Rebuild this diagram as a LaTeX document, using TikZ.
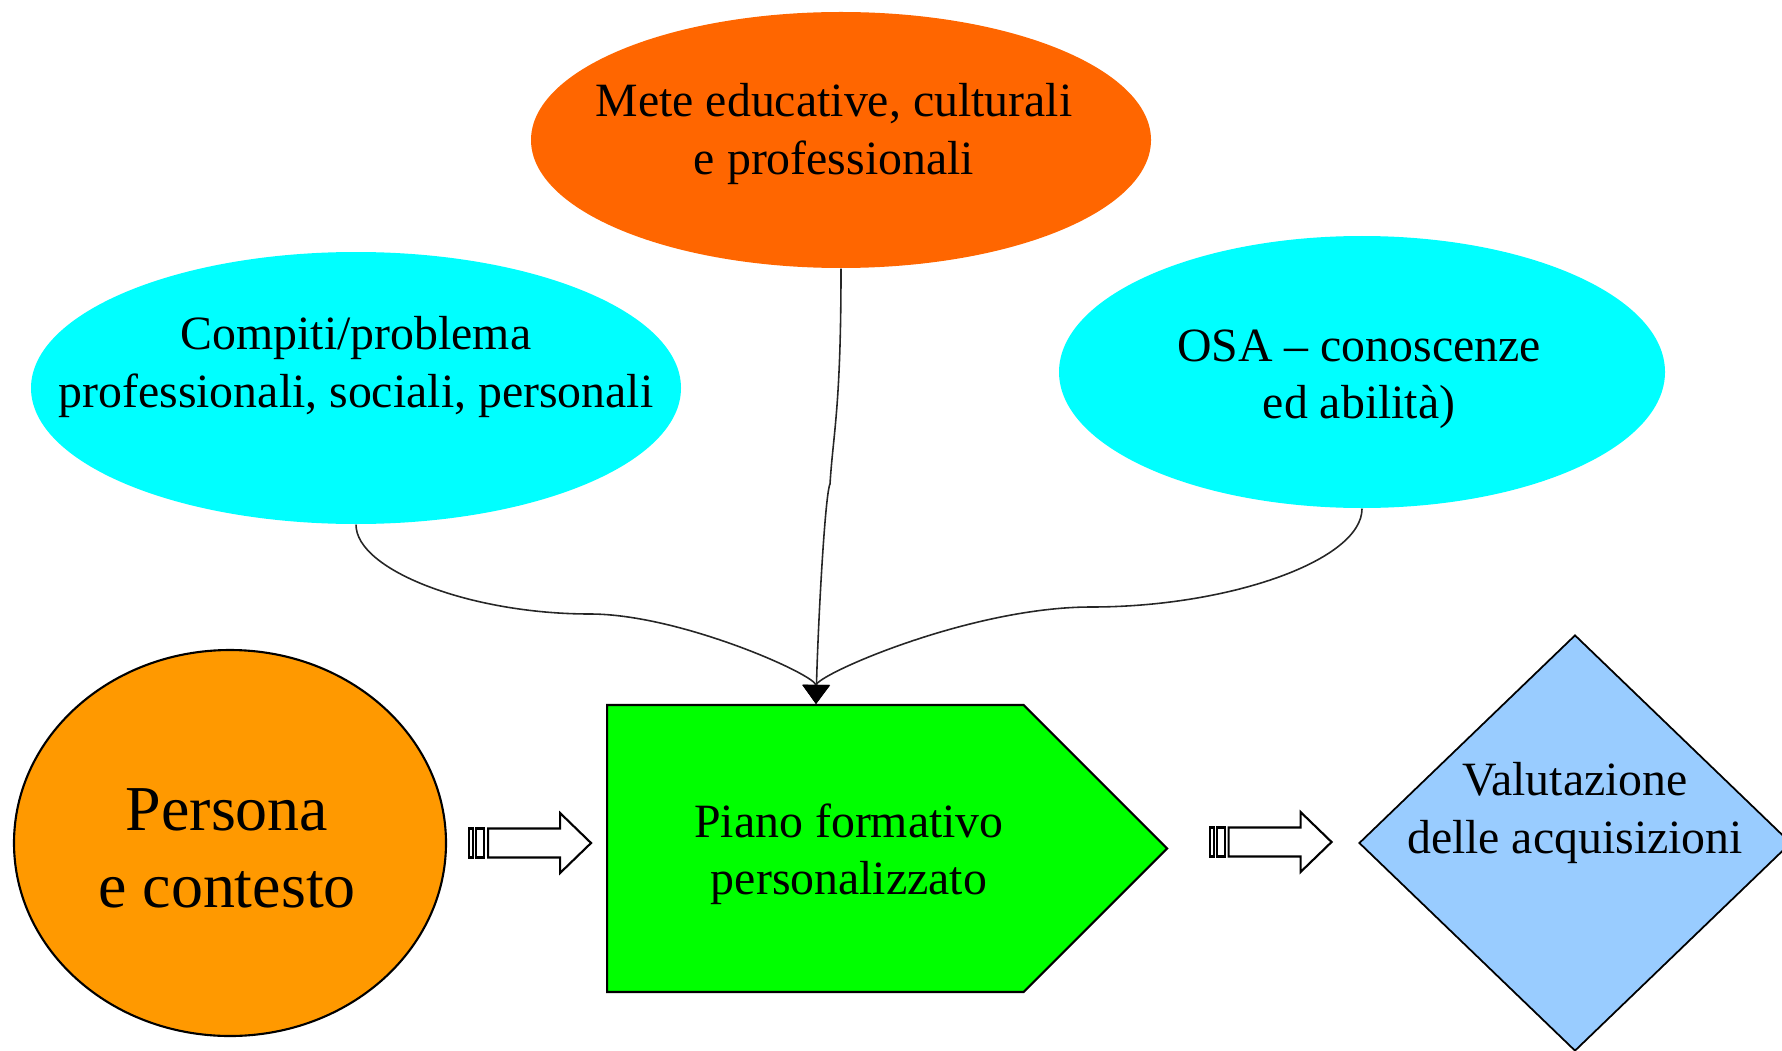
\documentclass[tikz,border=0pt]{standalone}
\usepackage{fontspec}
\setmainfont{Liberation Serif}
\usetikzlibrary{arrows.meta, positioning, shapes.geometric, shapes.symbols}

\definecolor{arancio}{HTML}{FF6600}
\definecolor{ciano}{HTML}{00FFFF}
\definecolor{arancioc}{HTML}{FF9900}
\definecolor{verde}{HTML}{00FF00}
\definecolor{azzurro}{HTML}{99CCFF}

\tikzset{
  fumetto/.style={ellipse, inner sep=0pt},
  testo/.style={align=center, font=\fontsize{13.6}{16.3}\selectfont},
  freccia/.style={draw=black!85, line width=0.45pt, -{Triangle[length=1.9mm,width=2.7mm,color=black]}},
  pics/frecciona/.style={code={
    \draw[fill=white, line width=0.6pt] (-0.61,-0.145) rectangle (-0.57,0.145);
    \draw[fill=white, line width=0.6pt] (-0.54,-0.145) rectangle (-0.46,0.145);
    \draw[fill=white, line width=0.6pt, line join=miter] (-0.42,-0.145) -- (0.30,-0.145) -- (0.30,-0.30)
      -- (0.61,0) -- (0.30,0.30) -- (0.30,0.145) -- (-0.42,0.145) -- cycle;
  }}
}

\begin{document}
\begin{tikzpicture}
\useasboundingbox (0,0) rectangle (17.82,10.5);

% ellissi in alto
\node[fumetto, fill=arancio, minimum width=6.2cm, minimum height=2.56cm] (mete) at (8.41,9.10) {};
\node[testo] at ([xshift=-0.07cm, yshift=0.06cm]mete.center) {Mete educative, culturali\\e professionali};

\node[fumetto, fill=ciano, minimum width=6.5cm, minimum height=2.72cm] (compiti) at (3.56,6.62) {};
\node[testo] at ([yshift=0.21cm]compiti.center) {Compiti/problema\\professionali, sociali, personali};

\node[fumetto, fill=ciano, minimum width=6.06cm, minimum height=2.72cm] (osa) at (13.62,6.78) {};
\node[testo] at ([xshift=-0.03cm, yshift=-0.07cm]osa.center) {OSA – conoscenze\\ed abilità)};

% riga in basso
\node[ellipse, draw, line width=0.6pt, fill=arancioc, minimum width=4.32cm, minimum height=3.86cm] (persona) at (2.30,2.07) {};
\node[align=center, font=\fontsize{18.2}{21.9}\selectfont] at ([xshift=-0.03cm, yshift=-0.05cm]persona.center) {Persona\\e contesto};

\node[signal, signal to=east, signal pointer angle=90, draw, line width=0.6pt, fill=verde, inner sep=0pt,
  minimum width=5.6cm, minimum height=2.87cm, anchor=west] (piano) at (6.06,2.015) {};
\node[testo] at ([xshift=2.43cm, yshift=-0.06cm]piano.west) {Piano formativo\\personalizzato};

\node[diamond, draw, line width=0.5pt, fill=azzurro, inner sep=0pt,
  minimum width=4.32cm, minimum height=4.16cm] (valutazione) at (15.75,2.07) {};
\node[testo] at ([yshift=0.30cm]valutazione.center) {Valutazione\\delle acquisizioni};

\coordinate (punta) at ([xshift=2.10cm]piano.north west);

% collegamenti
\draw[freccia] (compiti.south) .. controls (3.56,4.80) and (4.70,4.36) .. (5.90,4.36)
  .. controls (6.80,4.36) and (8.16,3.75) .. (punta);
\draw[freccia] (osa.south) .. controls (13.62,4.90) and (12.30,4.43) .. (10.91,4.43)
  .. controls (9.70,4.43) and (8.16,3.75) .. (punta);
\draw[freccia] (mete.south) .. controls +(0,-1.4) and +(0.03,0.5) .. (8.30,5.66)
  .. controls +(-0.05,-0.1) and +(0.02,0.8) .. (punta);

\pic at ([xshift=0.83cm]persona.east) {frecciona};
\pic at ([xshift=1.02cm, yshift=0.065cm]piano.east) {frecciona};

\end{tikzpicture}
\end{document}
